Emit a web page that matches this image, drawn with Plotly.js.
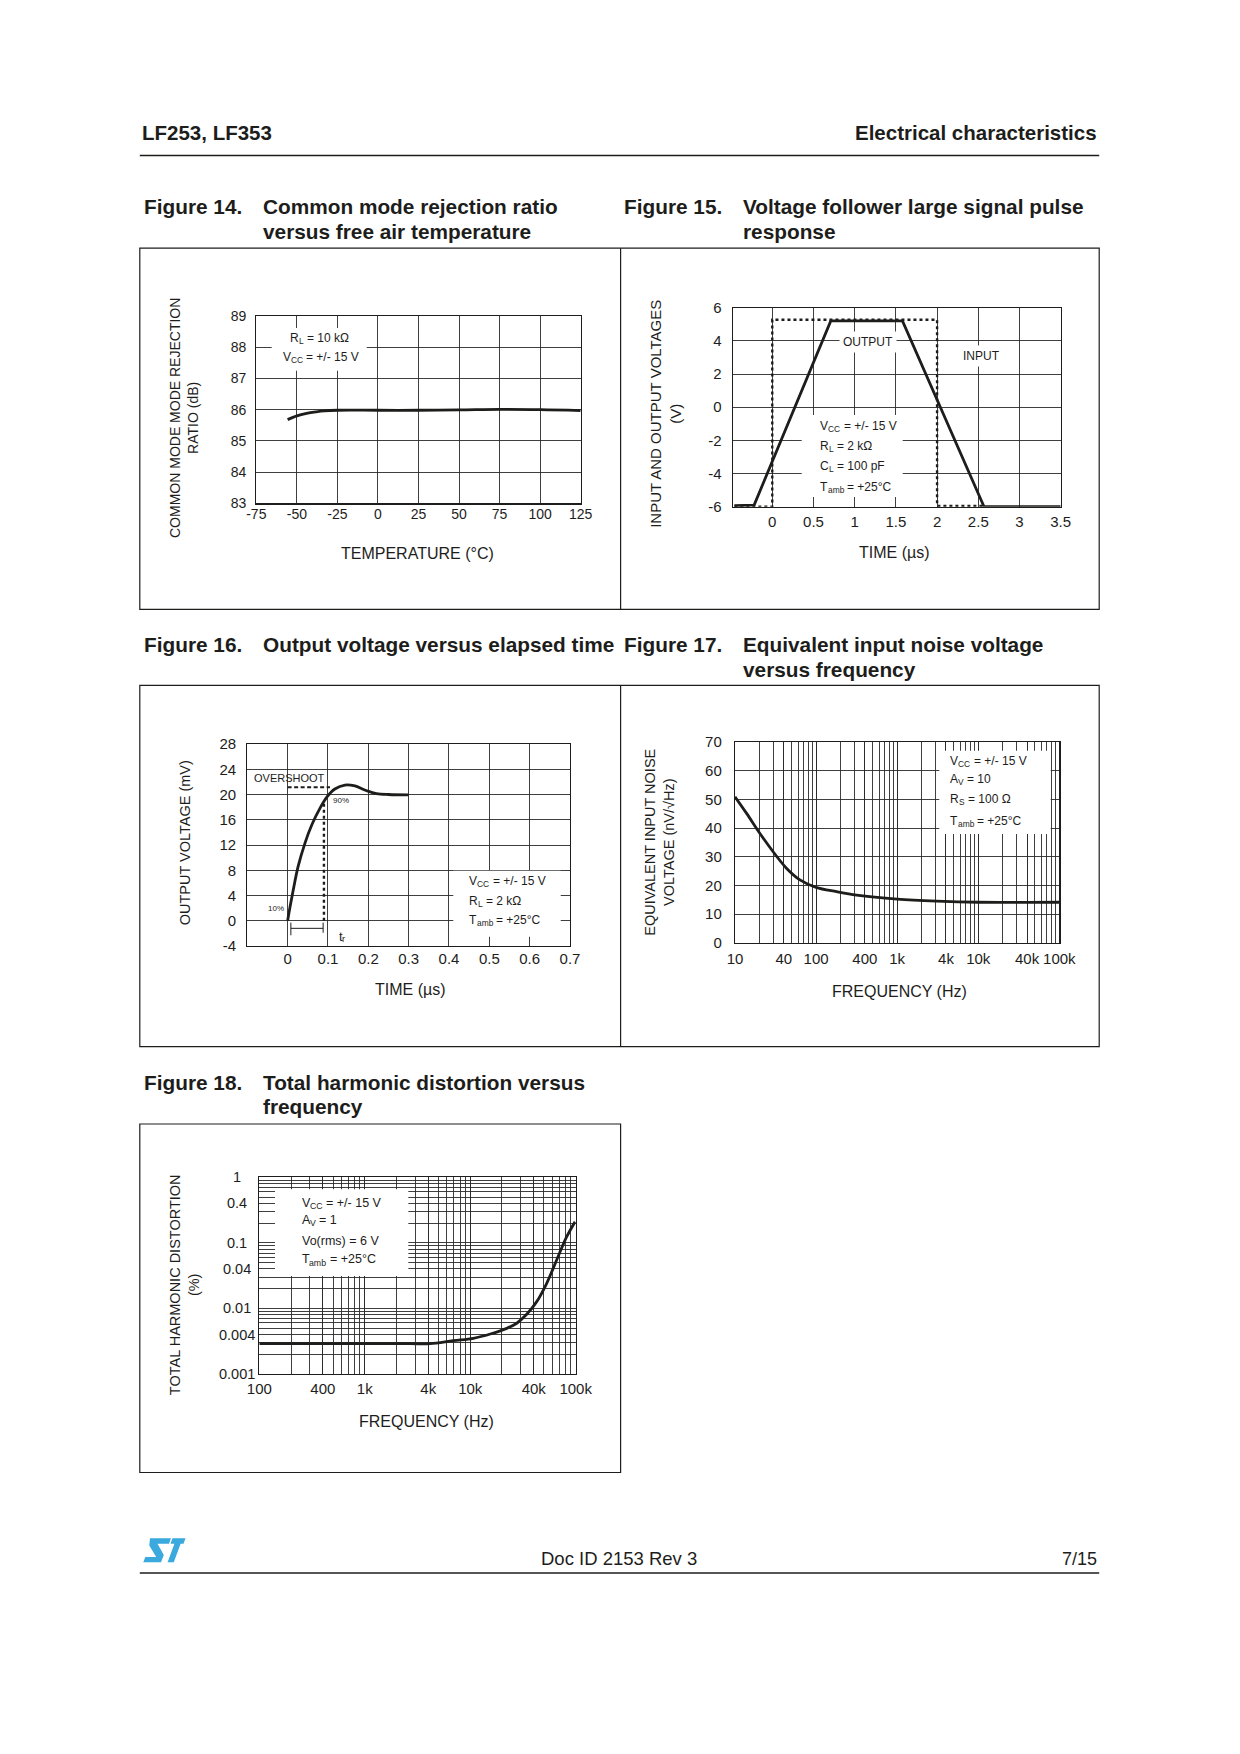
<!DOCTYPE html>
<html><head><meta charset="utf-8">
<script src="https://cdn.plot.ly/plotly-3.0.1.min.js"></script>
<style>html,body{margin:0;padding:0;background:#fff}</style>
</head><body><div id="page" style="width:1240px;height:1754px"></div>
<script>
// ---------- Figure 14: CMRR vs temperature ----------
const cmrrTemp = [-55.7, -50, -44, -38, -33, -25, 0, 25, 50, 75, 100, 125];
const cmrrDb   = [85.68, 85.80, 85.88, 85.93, 85.96, 85.98, 85.98, 85.98, 85.99, 86.01, 86.0, 85.97];
const fig14XTicks = [-75, -50, -25, 0, 25, 50, 75, 100, 125];
const fig14YTicks = [83, 84, 85, 86, 87, 88, 89];

// ---------- Figure 15: large signal pulse response ----------
const pulseOutT = [-0.46, -0.22, 0.71, 1.58, 2.57, 3.5];
const pulseOutV = [-5.93, -5.9, 5.2, 5.2, -6.0, -6.0];
const pulseInT  = [-0.46, 0, 0, 2.0, 2.0, 2.57];
const pulseInV  = [-6.0, -6.0, 5.27, 5.27, -5.95, -5.95];
const fig15XTicks = [0, 0.5, 1, 1.5, 2, 2.5, 3, 3.5];
const fig15XLabels = ['0', '0.5', '1', '1.5', '2', '2.5', '3', '3.5'];
const fig15YTicks = [-6, -4, -2, 0, 2, 4, 6];

// ---------- Figure 16: output voltage vs elapsed time ----------
const stepT = [0, 0.006, 0.014, 0.026, 0.043, 0.06, 0.08, 0.098, 0.117, 0.142, 0.167, 0.196, 0.22, 0.25, 0.3];
const stepV = [0, 2.2, 4.9, 8.6, 12.3, 15.2, 17.8, 19.65, 20.87, 21.5, 21.35, 20.6, 20.15, 20.0, 19.95];
const overshootT = [0, 0.105];
const overshootV = [21.15, 21.15];
const ninetyT = [0.09, 0.09];
const ninetyV = [0, 19];
const riseBracketT = [0.008, 0.008, null, 0.008, 0.088, null, 0.088, 0.088];
const riseBracketV = [-0.3, -2.3, null, -1.2, -1.2, null, -0.3, -1.9];
const fig16XTicks = [0, 0.1, 0.2, 0.3, 0.4, 0.5, 0.6, 0.7];
const fig16YTicks = [-4, 0, 4, 8, 12, 16, 20, 24, 28];

// ---------- Figure 17: input noise vs frequency ----------
const noiseF = [10, 13.9, 20.3, 30.5, 43.4, 63.2, 100, 179, 316, 1000, 3070, 10000, 100000];
const noiseV = [50.9, 45.1, 38.1, 31.2, 25.9, 21.9, 19.3, 17.8, 16.6, 15.2, 14.5, 14.1, 14.1];
const fig17XLabelVals = [10, 40, 100, 400, 1000, 4000, 10000, 40000, 100000];
const fig17XLabels = ['10', '40', '100', '400', '1k', '4k', '10k', '40k', '100k'];
const fig17YTicks = [0, 10, 20, 30, 40, 50, 60, 70];

// ---------- Figure 18: THD vs frequency ----------
const thdF = [100, 1000, 2700, 4170, 6900, 10700, 15500, 22200, 27600, 34300, 42700, 53100, 66000, 82200, 98600];
const thdPct = [0.0029, 0.0029, 0.0029, 0.0029, 0.00322, 0.0035, 0.00407, 0.00497, 0.00594, 0.00813, 0.0127, 0.0242, 0.0548, 0.124, 0.21];
const fig18XLabelVals = [100, 400, 1000, 4000, 10000, 40000, 100000];
const fig18XLabels = ['100', '400', '1k', '4k', '10k', '40k', '100k'];
const fig18YLabelVals = [1, 0.4, 0.1, 0.04, 0.01, 0.004, 0.001];
const fig18YLabels = ['1', '0.4', '0.1', '0.04', '0.01', '0.004', '0.001'];

// ---------- helpers ----------
const INK = '#1d1d1b';
const GRID = '#2a2a2a';
const FONT = 'Liberation Sans, Arial, Helvetica, sans-serif';
const W = 1240, H = 1754;
const X = v => v / W, Y = v => 1 - v / H;

function logGrid(e0, e1) {
  const v = [];
  for (let e = e0; e < e1; e++) for (let k = 1; k < 10; k++) v.push(+(k * Math.pow(10, e)).toPrecision(6));
  v.push(Math.pow(10, e1));
  return v;
}
function axis(extra) {
  return Object.assign({
    showline: true, linecolor: INK, linewidth: 1.2, mirror: true,
    showgrid: true, gridcolor: GRID, gridwidth: 0.9, zeroline: false,
    ticks: '', tickfont: {family: FONT, size: 15, color: INK}, fixedrange: true
  }, extra);
}
function minorGrid(vals) {
  return {tickmode: 'array', tickvals: vals, showgrid: true, gridcolor: GRID, gridwidth: 0.9, ticks: ''};
}
const ann = [];
function txt(text, x, y, o) {
  o = o || {};
  ann.push(Object.assign({
    text: text, x: X(x), y: Y(y), xref: 'paper', yref: 'paper', showarrow: false,
    xanchor: o.xa || 'center', yanchor: 'middle', align: o.align || 'center',
    font: {family: FONT, size: o.size || 12, color: INK}
  }, o.extra || {}));
}
// text with subscripts written as X_{sub}: each run drawn as its own annotation
const mctx = document.createElement('canvas').getContext('2d');
function tw(s, size) { mctx.font = size + 'px "Liberation Sans", Arial, sans-serif'; return mctx.measureText(s).width; }
function rich(src, x, y, o) {
  o = o || {};
  const size = o.size || 12, sub = size * 0.7;
  const parts = [];
  src.split(/(_\{[^}]*\})/).forEach(s => {
    if (!s) return;
    if (s.startsWith('_{')) parts.push([s.slice(2, -1), true]); else parts.push([s, false]);
  });
  const widths = parts.map(p => tw(p[0], p[1] ? sub : size));
  const total = widths.reduce((a, b) => a + b, 0);
  let cx = o.xa === 'center' ? x - total / 2 : x;
  parts.forEach((p, i) => {
    const fs = p[1] ? sub : size;
    const trimmed = p[0].replace(/^\s+/, '').replace(/\s+$/, '');
    const lead = tw(p[0].slice(0, p[0].length - p[0].replace(/^\s+/, '').length), fs);
    if (trimmed) ann.push({text: trimmed, x: X(cx + lead), y: Y(p[1] ? y + size * 0.26 : y), xref: 'paper', yref: 'paper',
      showarrow: false, xanchor: 'left', yanchor: 'middle', borderpad: 0, font: {family: FONT, size: fs, color: INK}});
    cx += widths[i];
  });
}
const shapes = [];
function rect(x0, y0, x1, y1, fill) {
  shapes.push({type: 'rect', xref: 'paper', yref: 'paper', x0: X(x0), x1: X(x1), y0: Y(y1), y1: Y(y0),
    line: fill ? {width: 0} : {color: INK, width: 1.2}, fillcolor: fill || 'rgba(0,0,0,0)', layer: 'above'});
}
function hline(x0, x1, y, w) {
  shapes.push({type: 'line', xref: 'paper', yref: 'paper', x0: X(x0), x1: X(x1), y0: Y(y), y1: Y(y), line: {color: INK, width: w || 1.2}});
}
function vline(x, y0, y1) {
  shapes.push({type: 'line', xref: 'paper', yref: 'paper', x0: X(x), x1: X(x), y0: Y(y0), y1: Y(y1), line: {color: INK, width: 1.2}});
}
function poly(pts, color) {
  const d = pts.map((p, i) => (i ? 'L' : 'M') + X(p[0]).toFixed(5) + ',' + Y(p[1]).toFixed(5)).join(' ') + ' Z';
  shapes.push({type: 'path', xref: 'paper', yref: 'paper', path: d, fillcolor: color, line: {width: 0}});
}

const curve = {color: INK, width: 2.8, shape: 'spline'};

const traces = [
  {x: cmrrTemp, y: cmrrDb, xaxis: 'x', yaxis: 'y', mode: 'lines', line: curve},
  {x: pulseInT, y: pulseInV, xaxis: 'x2', yaxis: 'y2', mode: 'lines', line: {color: INK, width: 2.4, dash: 'dot'}},
  {x: pulseOutT, y: pulseOutV, xaxis: 'x2', yaxis: 'y2', mode: 'lines', line: {color: INK, width: 2.8}},
  {x: overshootT, y: overshootV, xaxis: 'x3', yaxis: 'y3', mode: 'lines', line: {color: INK, width: 2, dash: '4px,2.5px'}},
  {x: ninetyT, y: ninetyV, xaxis: 'x3', yaxis: 'y3', mode: 'lines', line: {color: INK, width: 2.4, dash: 'dot'}},
  {x: riseBracketT, y: riseBracketV, xaxis: 'x3', yaxis: 'y3', mode: 'lines', line: {color: INK, width: 1}, connectgaps: false},
  {x: stepT, y: stepV, xaxis: 'x3', yaxis: 'y3', mode: 'lines', line: curve},
  {x: noiseF, y: noiseV, xaxis: 'x4', yaxis: 'y4', mode: 'lines', line: curve},
  {x: thdF, y: thdPct, xaxis: 'x5', yaxis: 'y5', mode: 'lines', line: curve}
].map(t => Object.assign({hoverinfo: 'skip', showlegend: false, type: 'scatter'}, t));

const g17x = logGrid(1, 5), g18x = logGrid(2, 5), g18y = logGrid(-3, 0);

const layout = {
  width: W, height: H, margin: {l: 0, r: 0, t: 0, b: 0},
  paper_bgcolor: '#fff', plot_bgcolor: 'rgba(0,0,0,0)', showlegend: false,
  font: {family: FONT, color: INK},
  xaxis: axis({domain: [X(256.3), X(580.7)], range: [-75, 125], tickvals: fig14XTicks, ticktext: fig14XTicks.map(String), anchor: 'y', tickfont: {family: FONT, size: 14, color: INK}, ticklabelstandoff: -2}),
  yaxis: axis({domain: [Y(503.3), Y(316)], range: [83, 89], tickvals: fig14YTicks, ticktext: fig14YTicks.map(String), anchor: 'x', tickfont: {family: FONT, size: 14, color: INK}, ticklabelstandoff: 6}),
  xaxis2: axis({domain: [X(732.7), X(1060.7)], range: [-0.48, 3.5], tickvals: fig15XTicks, ticktext: fig15XLabels, anchor: 'y2', ticklabelstandoff: 1}),
  yaxis2: axis({domain: [Y(506.7), Y(307.7)], range: [-6, 6], tickvals: fig15YTicks, ticktext: fig15YTicks.map(String), anchor: 'x2', ticklabelstandoff: 7}),
  xaxis3: axis({domain: [X(247.3), X(570)], range: [-0.1, 0.7], tickvals: fig16XTicks, ticktext: fig16XTicks.map(String), anchor: 'y3', ticklabelstandoff: -1}),
  yaxis3: axis({domain: [Y(946), Y(744)], range: [-4, 28], tickvals: fig16YTicks, ticktext: fig16YTicks.map(String), anchor: 'x3', ticklabelstandoff: 7}),
  xaxis4: axis({type: 'log', domain: [X(735), X(1059.3)], range: [1, 5], tickvals: fig17XLabelVals, ticktext: fig17XLabels, minor: minorGrid(g17x), anchor: 'y4', ticklabelstandoff: 2}),
  yaxis4: axis({domain: [Y(942.7), Y(742)], range: [0, 70], tickvals: fig17YTicks, ticktext: fig17YTicks.map(String), anchor: 'x4', ticklabelstandoff: 9}),
  xaxis5: axis({type: 'log', domain: [X(259.3), X(575.7)], range: [2, 5], tickvals: fig18XLabelVals, ticktext: fig18XLabels, minor: minorGrid(g18x), anchor: 'y5', ticklabelstandoff: 1}),
  yaxis5: axis({type: 'log', domain: [Y(1374), Y(1177.3)], range: [-3, 0], tickvals: g18y, showticklabels: false, anchor: 'x5'}),
  shapes: shapes, annotations: ann
};

// Page header / footer
txt('<b>LF253, LF353</b>', 139.8, 132, {xa: 'left', size: 20.5});
txt('<b>Electrical characteristics</b>', 1099.2, 132, {xa: 'right', size: 20.5});
hline(139.8, 1099.2, 155.5, 1.3);
txt('Doc ID 2153 Rev 3', 619.4, 1558.5, {size: 18.5});
txt('7/15', 1099.2, 1558.5, {xa: 'right', size: 18});
hline(139.8, 1099.2, 1573, 1.3);
const ST = '#3aa9de';
poly([[150, 1538.3], [171, 1538.3], [169, 1543.8], [157.5, 1543.8], [163.8, 1555], [161, 1562.3], [143.3, 1562.3], [145.3, 1557], [156.2, 1557], [149.3, 1545.5]], ST);
poly([[172.5, 1538.3], [185.5, 1538.3], [183.5, 1543.8], [180.6, 1543.8], [173.8, 1562.3], [167.6, 1562.3], [174.4, 1543.8], [170.5, 1543.8]], ST);

// Captions
const cap = 20.8;
const cx1 = 142, tx1 = 260.5, cx2 = 622, tx2 = 740.5;
txt('<b>Figure 14.</b>', cx1, 206.8, {xa: 'left', size: cap});
txt('<b>Common mode rejection ratio</b>', tx1, 206.8, {xa: 'left', size: cap});
txt('<b>versus free air temperature</b>', tx1, 231.4, {xa: 'left', size: cap});
txt('<b>Figure 15.</b>', cx2, 206.8, {xa: 'left', size: cap});
txt('<b>Voltage follower large signal pulse</b>', tx2, 206.8, {xa: 'left', size: cap});
txt('<b>response</b>', tx2, 231.4, {xa: 'left', size: cap});
txt('<b>Figure 16.</b>', cx1, 644.3, {xa: 'left', size: cap});
txt('<b>Output voltage versus elapsed time</b>', tx1, 644.3, {xa: 'left', size: cap});
txt('<b>Figure 17.</b>', cx2, 644.3, {xa: 'left', size: cap});
txt('<b>Equivalent input noise voltage</b>', tx2, 644.3, {xa: 'left', size: cap});
txt('<b>versus frequency</b>', tx2, 669.2, {xa: 'left', size: cap});
txt('<b>Figure 18.</b>', cx1, 1082.3, {xa: 'left', size: cap});
txt('<b>Total harmonic distortion versus</b>', tx1, 1082.3, {xa: 'left', size: cap});
txt('<b>frequency</b>', tx1, 1106.9, {xa: 'left', size: cap});

// Frames
rect(139.8, 248.2, 1099.2, 609.4);
vline(620.6, 248.2, 609.4);
rect(139.8, 685.4, 1099.2, 1046.6);
vline(620.6, 685.4, 1046.6);
rect(139.8, 1124, 620.6, 1472.5);

// White condition boxes
rect(271.7, 328, 366.7, 370.7, '#fff');
rect(801.7, 415, 902.7, 497, '#fff');
rect(453.3, 870.7, 560.7, 936.7, '#fff');
rect(939.3, 750.7, 1050.7, 834, '#fff');
rect(275, 1189.3, 408.3, 1276, '#fff');

// Fig 14 texts
txt('COMMON MODE MODE REJECTION<br>RATIO (dB)', 184, 418, {size: 14, extra: {textangle: -90}});
txt('TEMPERATURE (°C)', 417.3, 553.3, {size: 16});
rich('R_{L} = 10 kΩ', 318.7, 338.3, {xa: 'center'});
rich('V_{CC} = +/- 15 V', 320, 357.3, {xa: 'center'});

// Fig 15 texts
txt('INPUT AND OUTPUT VOLTAGES<br>(V)', 665.5, 414.3, {size: 15, extra: {textangle: -90}});
txt('TIME (µs)', 894.3, 552.3, {size: 16});
txt('OUTPUT', 868.3, 342.3, {extra: {bgcolor: '#fff', borderpad: 3}});
txt('INPUT', 981, 355.7, {extra: {bgcolor: '#fff', borderpad: 3}});
rich('V_{CC} = +/- 15 V', 819.3, 425.7);
rich('R_{L} = 2 kΩ', 819.3, 445.7);
rich('C_{L} = 100 pF', 819.3, 466.3);
rich('T_{amb} = +25°C', 819.3, 487.3);

// Fig 16 texts
txt('OUTPUT VOLTAGE (mV)', 185, 843.3, {size: 14.5, extra: {textangle: -90}});
txt('TIME (µs)', 410.7, 989.3, {size: 16});
txt('OVERSHOOT', 289, 778.3, {size: 11});
txt('90%', 341, 800.7, {size: 8});
txt('10%', 276, 909, {size: 8});
rich('t_{r}', 341, 936, {xa: 'center', size: 13});
rich('V_{CC} = +/- 15 V', 468.3, 881.3);
rich('R_{L} = 2 kΩ', 468.3, 901);
rich('T_{amb} = +25°C', 468.3, 920);

// Fig 17 texts
txt('EQUIVALENT INPUT NOISE<br>VOLTAGE (nV/√Hz)', 659.2, 842.5, {size: 14.5, extra: {textangle: -90}});
txt('FREQUENCY (Hz)', 899.3, 991.7, {size: 16});
rich('V_{CC} = +/- 15 V', 949.3, 760.7);
rich('A_{V} = 10', 949.3, 779.3);
rich('R_{S} = 100 Ω', 949.3, 799);
rich('T_{amb} = +25°C', 949.3, 821);

// Fig 18 texts
txt('TOTAL HARMONIC DISTORTION<br>(%)', 184.2, 1285, {size: 14.5, extra: {textangle: -90}});
txt('FREQUENCY (Hz)', 426, 1421, {size: 16});
rich('V_{CC} = +/- 15 V', 300.7, 1202.7, {size: 12.5});
rich('A_{V} = 1', 300.7, 1220, {size: 12.5});
txt('Vo(rms) = 6 V', 300.7, 1240.7, {xa: 'left', size: 12.5, extra: {borderpad: 0}});
rich('T_{amb} = +25°C', 300.7, 1259.3, {size: 12.5});
fig18YLabelVals.forEach((v, i) => {
  ann.push({text: fig18YLabels[i], xref: 'paper', yref: 'y5', x: X(236.7), y: Math.log10(v), showarrow: false,
    xanchor: 'center', yanchor: 'middle', font: {family: FONT, size: 14.5, color: INK}});
});

Plotly.newPlot('page', traces, layout, {staticPlot: true, displayModeBar: false});
</script>
</body></html>
